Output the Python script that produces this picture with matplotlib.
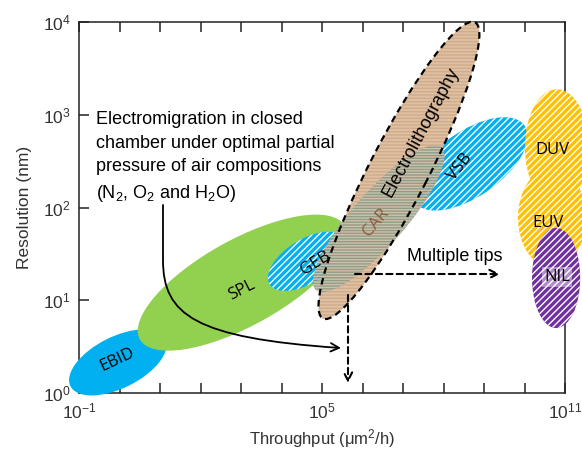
import numpy as np
import matplotlib
matplotlib.use("Agg")
import matplotlib.pyplot as plt
from matplotlib.patches import Ellipse, FancyArrowPatch
from matplotlib.path import Path
from matplotlib.transforms import Affine2D
from matplotlib.ticker import FixedLocator, FuncFormatter

plt.rcParams['font.family'] = ['Liberation Sans', 'DejaVu Sans']
plt.rcParams['mathtext.fontset'] = 'custom'
plt.rcParams['mathtext.rm'] = 'Liberation Sans'
plt.rcParams['mathtext.it'] = 'Liberation Sans:italic'
plt.rcParams['mathtext.default'] = 'regular'
plt.rcParams['hatch.linewidth'] = 1.0

# regions, all positions in log10 units: throughput (um^2/h) and resolution (nm)
techniques = ['EBID', 'SPL', 'GEB', 'Electrolithography', 'CAR', 'VSB', 'DUV', 'EUV', 'NIL']
center_throughput = [-0.04, 3.03, 4.62, 6.90, 6.40, 8.65, 10.80, 10.68, 10.78]
center_resolution = [0.33, 1.19, 1.42, 2.40, 1.88, 2.47, 2.65, 1.89, 1.24]
# extent along the long / short axis (in throughput decades) and tilt in degrees
region_length = [2.62, 5.78, 2.15, 8.22, 4.69, 3.30, 1.58, 1.68, 1.19]
region_width = [1.27, 2.12, 1.08, 1.45, 1.30, 1.60, 2.86, 2.47, 2.47]
region_tilt = [26.6, 29, 32, 62.8, 48.6, 35, 0, 0, 0]

label_throughput = [-0.06, 3.03, 4.83, 7.44, 6.33, 8.41, 10.70, 10.58, 10.80]
label_resolution = [0.36, 1.11, 1.40, 2.81, 1.84, 2.44, 2.62, 1.83, 1.25]
label_rotation = [25, 27, 32, 62, 50, 52, 0, 0, 0]

x_ticks = list(range(-1, 12))
x_labelled = [-1, 5, 11]
y_ticks = [0, 1, 2, 3, 4]

note = ("Electromigration in closed\nchamber under optimal partial\n"
        "pressure of air compositions\n(N$_2$, O$_2$ and H$_2$O)")
note_pos = (-0.58, 3.04)

# curved arrow: vertical drop then bend to the right (log units)
curve_x = [1.074, 1.074, 1.074, 1.864, 5.469]
curve_y = [2.027, 1.434, 0.841, 0.593, 0.485]

tips_label_pos = (8.28, 1.47)
tips_arrow = ((5.815, 1.283), (9.395, 1.283))
down_arrow = ((5.642, 1.057), (5.642, 0.108))

blue = '#00B0F0'
green = '#92D050'
yellow = '#FFC000'
purple = '#7030A0'
tan = '#DFC0A2'

fig = plt.figure(figsize=(5.82, 4.5), dpi=100)
ax = fig.add_axes([79 / 582, 57 / 450, 486 / 582, 371 / 450])
ax.set_xlim(-1, 11)
ax.set_ylim(0, 4)

bb = ax.get_window_extent()
k = (bb.width / 12) / (bb.height / 4)


def blob(i, zorder, **kw):
    e = Ellipse((0, 0), region_length[i], region_width[i], angle=region_tilt[i], **kw)
    e.set_transform(Affine2D().scale(1, k).translate(center_throughput[i], center_resolution[i])
                    + ax.transData)
    e.set_clip_on(False)
    e.set_zorder(zorder)
    ax.add_patch(e)
    return e


stripes = '/////'
idx = {name: i for i, name in enumerate(techniques)}
blob(idx['EBID'], 3, facecolor=blue, linewidth=0)
blob(idx['SPL'], 3.1, facecolor=green, linewidth=0)
blob(idx['GEB'], 3.2, facecolor=blue, edgecolor='white', hatch=stripes, linewidth=0)
blob(idx['VSB'], 3.2, facecolor=blue, edgecolor='white', hatch=stripes, linewidth=0)
electro = blob(idx['Electrolithography'], 3.3, facecolor=tan, edgecolor='#CFAC8C',
               hatch='-----', linewidth=0)
car = blob(idx['CAR'], 3.4, facecolor=(0.53, 0.59, 0.53, 0.85), edgecolor='#CDC2A8',
           hatch='------', linewidth=0)
car.set_clip_path(electro)
blob(idx['Electrolithography'], 3.5, fill=False, edgecolor='black', linestyle=(0, (3, 2)),
     linewidth=1.6)
blob(idx['DUV'], 3.2, facecolor=yellow, edgecolor='white', hatch=stripes, linewidth=0)
blob(idx['EUV'], 3.2, facecolor=yellow, edgecolor='white', hatch=stripes, linewidth=0)
blob(idx['NIL'], 3.3, facecolor=purple, edgecolor='white', hatch=stripes, linewidth=0)

for i, name in enumerate(techniques):
    if name == 'Electrolithography':
        ax.text(label_throughput[i], label_resolution[i], name, rotation=label_rotation[i],
                ha='center', va='center', fontsize=13, zorder=6, rotation_mode='anchor')
        continue
    color = '#8B5A3C' if name == 'CAR' else 'black'
    bbox = dict(boxstyle='square,pad=0.1', fc=(1, 1, 1, 0.45), ec='none') if name == 'NIL' else None
    ax.text(label_throughput[i], label_resolution[i], name, rotation=label_rotation[i],
            ha='center', va='center', fontsize=12, color=color, family=['Open Sans', 'DejaVu Sans'],
            zorder=6, rotation_mode='anchor', bbox=bbox)

ax.text(note_pos[0], note_pos[1], note, ha='left', va='top', fontsize=13,
        linespacing=1.5, zorder=6)

codes = [Path.MOVETO, Path.LINETO, Path.CURVE4, Path.CURVE4, Path.CURVE4]
curve = Path(np.column_stack([curve_x, curve_y]), codes)
ax.add_patch(FancyArrowPatch(path=curve, arrowstyle='->,head_length=0.5,head_width=0.25',
                             mutation_scale=12, color='black', linewidth=1.3, zorder=5))

for (x0, y0), (x1, y1) in [tips_arrow, down_arrow]:
    ax.annotate('', xy=(x1, y1), xytext=(x0, y0), zorder=6,
                arrowprops=dict(arrowstyle='->,head_length=0.5,head_width=0.25',
                                mutation_scale=12, color='black', linewidth=1.5,
                                linestyle=(0, (3, 2)), shrinkA=0, shrinkB=0))
ax.text(tips_label_pos[0], tips_label_pos[1], 'Multiple tips', ha='center', va='center',
        fontsize=13, zorder=6)

ax.xaxis.set_major_locator(FixedLocator(x_ticks))
ax.yaxis.set_major_locator(FixedLocator(y_ticks))
ax.xaxis.set_major_formatter(FuncFormatter(
    lambda v, p: f'$10^{{{int(round(v))}}}$' if int(round(v)) in x_labelled else ''))
ax.yaxis.set_major_formatter(FuncFormatter(lambda v, p: f'$10^{{{int(round(v))}}}$'))
ax.tick_params(direction='in', length=7, width=1.1, top=True, right=False,
               labelsize=12.5, colors='#222222', pad=6)
ax.tick_params(labelcolor='#333333')
for s in ax.spines.values():
    s.set_linewidth(1.1)
    s.set_color('#222222')

ax.set_xlabel('Throughput (μm$^2$/h)', fontsize=12, color='#333333', labelpad=4)
ax.set_ylabel('Resolution (nm)', fontsize=12.5, color='#333333', labelpad=8)

fig.savefig('out.png', dpi=100)
